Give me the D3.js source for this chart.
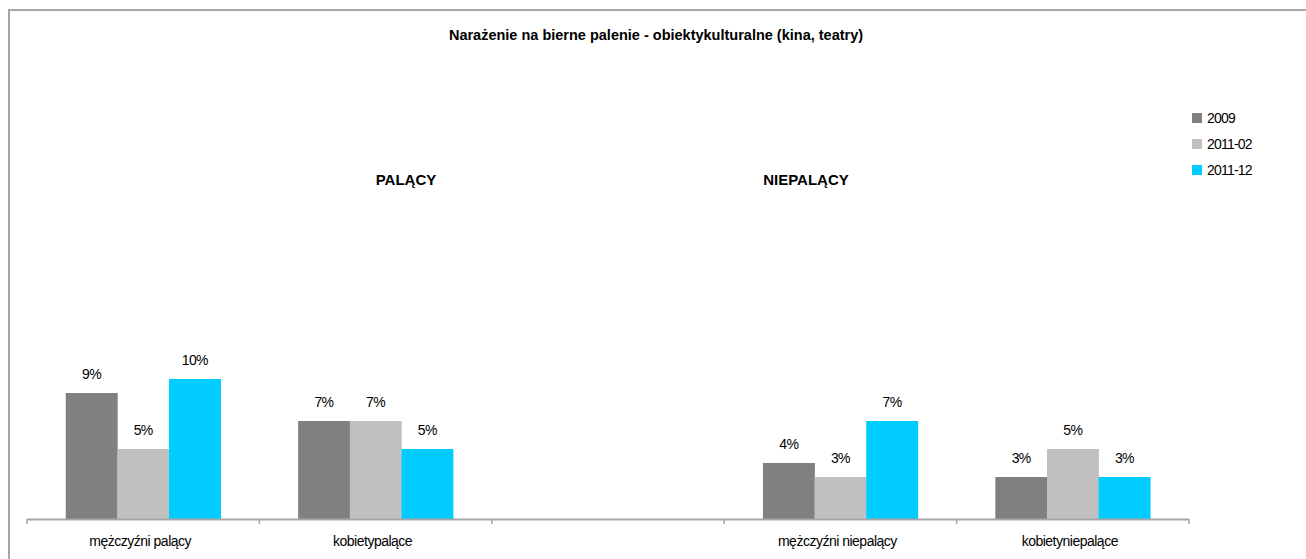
<!DOCTYPE html>
<html>
<head>
<meta charset="utf-8">
<script src="https://cdn.jsdelivr.net/npm/d3@7"></script>
<style>
  html, body { margin: 0; padding: 0; background: #fff; }
  svg { display: block; font-family: "Liberation Sans", Arial, sans-serif; }
</style>
</head>
<body>
<svg id="chart" width="1306" height="559"></svg>
<script>
const title = "Narażenie na bierne palenie - obiektykulturalne (kina, teatry)";
const categories = ["mężczyźni palący", "kobietypalące", "", "mężczyźni niepalący", "kobietyniepalące"];
const seriesNames = ["2009", "2011-02", "2011-12"];
const values2009 = [0.09, 0.07, null, 0.04, 0.03];
const values201102 = [0.05, 0.07, null, 0.03, 0.05];
const values201112 = [0.10, 0.05, null, 0.07, 0.03];
const seriesColors = ["#808080", "#c0c0c0", "#00ccff"];
const groupHeaders = [
  { text: "PALĄCY", x: 406 },
  { text: "NIEPALĄCY", x: 806 }
];

const seriesValues = [values2009, values201102, values201112];
const svg = d3.select("#chart");

// outer frame
svg.append("path")
  .attr("d", "M9,570 L9,10 L1320,10")
  .attr("fill", "none")
  .attr("stroke", "#a6a6a6")
  .attr("stroke-width", 2);

const x0 = d3.scaleBand().domain(d3.range(categories.length)).range([27, 1189]).paddingInner(0).paddingOuter(0);
const bw = x0.bandwidth();
const barW = bw / 4.5; // gap width 150%
const y = d3.scaleLinear().domain([0, 0.25]).range([519, 169]);

// title
svg.append("text")
  .attr("x", 656).attr("y", 40)
  .attr("text-anchor", "middle")
  .attr("font-size", 14.5).attr("font-weight", "bold")
  .attr("fill", "#000")
  .text(title);

// group headers
svg.selectAll("text.hdr").data(groupHeaders).enter().append("text")
  .attr("class", "hdr")
  .attr("x", d => d.x).attr("y", 185)
  .attr("text-anchor", "middle")
  .attr("font-size", 15).attr("font-weight", "bold")
  .attr("fill", "#000")
  .text(d => d.text);

// bars
const groupStart = i => x0(i) + (bw - 3 * barW) / 2;
seriesValues.forEach((vals, s) => {
  const data = vals.map((v, i) => ({ v, i })).filter(d => d.v !== null);
  svg.selectAll(null).data(data).enter().append("rect")
    .attr("x", d => groupStart(d.i) + s * barW)
    .attr("y", d => y(d.v))
    .attr("width", barW + 0.3)
    .attr("height", d => y(0) - y(d.v))
    .attr("fill", seriesColors[s]);
  svg.selectAll(null).data(data).enter().append("text")
    .attr("x", d => groupStart(d.i) + s * barW + barW / 2)
    .attr("y", d => y(d.v) - 14)
    .attr("text-anchor", "middle")
    .attr("font-size", 14)
    .attr("letter-spacing", -0.6)
    .attr("fill", "#000")
    .text(d => Math.round(d.v * 100) + "%");
});

// x axis
const axisG = svg.append("g");
axisG.append("line")
  .attr("x1", x0.range()[0]).attr("x2", x0.range()[1])
  .attr("y1", 519.5).attr("y2", 519.5)
  .attr("stroke", "#a6a6a6").attr("stroke-width", 2);
const tickPos = d3.range(categories.length + 1).map(i => i < categories.length ? x0(i) : x0.range()[1]);
axisG.selectAll("line.tick").data(tickPos).enter().append("line")
  .attr("x1", d => d).attr("x2", d => d)
  .attr("y1", 519).attr("y2", 524)
  .attr("stroke", "#a6a6a6").attr("stroke-width", 1.5);
axisG.selectAll("text.cat").data(categories).enter().append("text")
  .attr("x", (d, i) => x0(i) + bw / 2 - 3)
  .attr("y", 546)
  .attr("text-anchor", "middle")
  .attr("font-size", 14)
  .attr("letter-spacing", -0.5)
  .attr("fill", "#000")
  .text(d => d);

// legend
const leg = svg.append("g");
seriesNames.forEach((n, i) => {
  leg.append("rect")
    .attr("x", 1192).attr("y", 113 + i * 26)
    .attr("width", 10).attr("height", 10)
    .attr("fill", seriesColors[i]);
  leg.append("text")
    .attr("x", 1207).attr("y", 123 + i * 26)
    .attr("font-size", 14)
    .attr("letter-spacing", -0.8)
    .attr("fill", "#000")
    .text(n);
});
</script>
</body>
</html>
